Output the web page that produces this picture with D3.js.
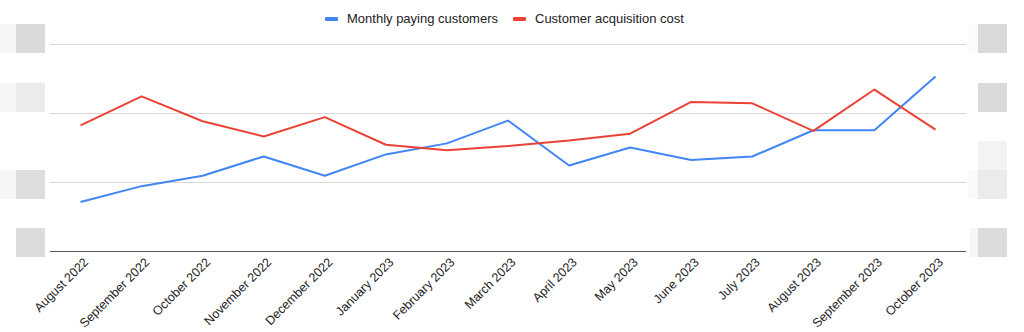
<!DOCTYPE html>
<html>
<head>
<meta charset="utf-8">
<script src="https://cdn.jsdelivr.net/npm/d3@7"></script>
<style>
  html, body { margin: 0; padding: 0; background: #fff; }
  svg { display: block; font-family: Arial, "Liberation Sans", sans-serif; }
</style>
</head>
<body>
<svg id="chart" width="1024" height="332"></svg>
<script>
// Months on the x axis
const months = [
  "August 2022", "September 2022", "October 2022", "November 2022", "December 2022",
  "January 2023", "February 2023", "March 2023", "April 2023", "May 2023",
  "June 2023", "July 2023", "August 2023", "September 2023", "October 2023"
];

// Left axis series
const payingCustomers = [71, 94, 109, 137, 109, 140, 156, 189, 124, 150, 132, 137, 175, 175, 253];

// Right axis series
const acquisitionCost = [91, 112, 94, 83, 97, 77, 73, 76, 80, 85, 108, 107, 87, 117, 88];

const leftTicks = [0, 100, 200, 300];
const rightTicks = [0, 50, 100, 150];

const seriesNames = ["Monthly paying customers", "Customer acquisition cost"];
const seriesColors = ["#4285f4", "#ea4335"];

const svg = d3.select("#chart");
const margin = { top: 44, right: 58, bottom: 81, left: 50 };
const width = 1024, height = 332;
const plotW = width - margin.left - margin.right;
const plotH = height - margin.top - margin.bottom;

const x = d3.scalePoint().domain(months).range([0, plotW]).padding(0.5);
const yLeft = d3.scaleLinear().domain([0, 300]).range([plotH, 0]);
const yRight = d3.scaleLinear().domain([0, 150]).range([plotH, 0]);

const g = svg.append("g").attr("transform", `translate(${margin.left},${margin.top})`);

// Horizontal gridlines
g.append("g")
  .selectAll("line")
  .data(leftTicks.filter(t => t !== 0))
  .join("line")
  .attr("x1", 0).attr("x2", plotW)
  .attr("y1", d => Math.round(yLeft(d)) + 0.5)
  .attr("y2", d => Math.round(yLeft(d)) + 0.5)
  .attr("stroke", "#d9d9d9")
  .attr("stroke-width", 1);

// Masked axis labels (grey blocks on either side)
const maskBlocks = [
  { x: 0, y: 24, w: 16, h: 29, c: "#f6f6f6" }, { x: 16, y: 24, w: 29, h: 29, c: "#dadada" },
  { x: 0, y: 83, w: 16, h: 29, c: "#f6f6f6" }, { x: 16, y: 83, w: 29, h: 29, c: "#ececec" },
  { x: 0, y: 170, w: 16, h: 29, c: "#f6f6f6" }, { x: 16, y: 170, w: 29, h: 29, c: "#dedede" },
  { x: 16, y: 228, w: 29, h: 29, c: "#dcdcdc" },
  { x: 968, y: 24, w: 10, h: 29, c: "#fbfbfb" }, { x: 978, y: 24, w: 29, h: 29, c: "#d9d9d9" },
  { x: 978, y: 83, w: 29, h: 29, c: "#dadada" },
  { x: 978, y: 141, w: 29, h: 29, c: "#f3f3f3" },
  { x: 968, y: 170, w: 10, h: 29, c: "#fafafa" }, { x: 978, y: 170, w: 29, h: 29, c: "#ebebeb" },
  { x: 970, y: 228, w: 8, h: 29, c: "#f6f6f6" }, { x: 978, y: 228, w: 29, h: 29, c: "#dcdcdc" }
];
svg.append("g")
  .selectAll("rect")
  .data(maskBlocks)
  .join("rect")
  .attr("x", d => d.x).attr("y", d => d.y)
  .attr("width", d => d.w).attr("height", d => d.h)
  .attr("fill", d => d.c);

// Baseline
g.append("line")
  .attr("x1", 0).attr("x2", plotW)
  .attr("y1", Math.round(yLeft(0)) + 0.5).attr("y2", Math.round(yLeft(0)) + 0.5)
  .attr("stroke", "#555")
  .attr("stroke-width", 1);

// X axis labels, rotated
const xAxis = d3.axisBottom(x).tickSize(0).tickPadding(0);
const xg = g.append("g").attr("transform", `translate(0,${plotH})`).call(xAxis);
xg.select(".domain").remove();
xg.selectAll("text")
  .attr("fill", "#222")
  .attr("font-size", 12.5)
  .attr("text-anchor", "end")
  .attr("dy", null)
  .attr("y", 0)
  .attr("transform", "translate(8,12) rotate(-45)");

// Lines
const lineLeft = d3.line().x((d, i) => x(months[i])).y(d => yLeft(d));
const lineRight = d3.line().x((d, i) => x(months[i])).y(d => yRight(d));

g.append("path")
  .datum(payingCustomers)
  .attr("fill", "none")
  .attr("stroke", seriesColors[0])
  .attr("stroke-width", 2)
  .attr("stroke-linejoin", "round")
  .attr("d", lineLeft);

g.append("path")
  .datum(acquisitionCost)
  .attr("fill", "none")
  .attr("stroke", seriesColors[1])
  .attr("stroke-width", 2)
  .attr("stroke-linejoin", "round")
  .attr("d", lineRight);

// Legend
const legend = svg.append("g");
const legendX = [325, 513];
seriesNames.forEach((name, i) => {
  const item = legend.append("g").attr("transform", `translate(${legendX[i]},0)`);
  item.append("rect")
    .attr("x", 0).attr("y", 17)
    .attr("width", 13).attr("height", 4)
    .attr("rx", 1)
    .attr("fill", seriesColors[i]);
  item.append("text")
    .attr("x", 22).attr("y", 23)
    .attr("font-size", 13)
    .attr("fill", "#222")
    .text(name);
});
</script>
</body>
</html>
